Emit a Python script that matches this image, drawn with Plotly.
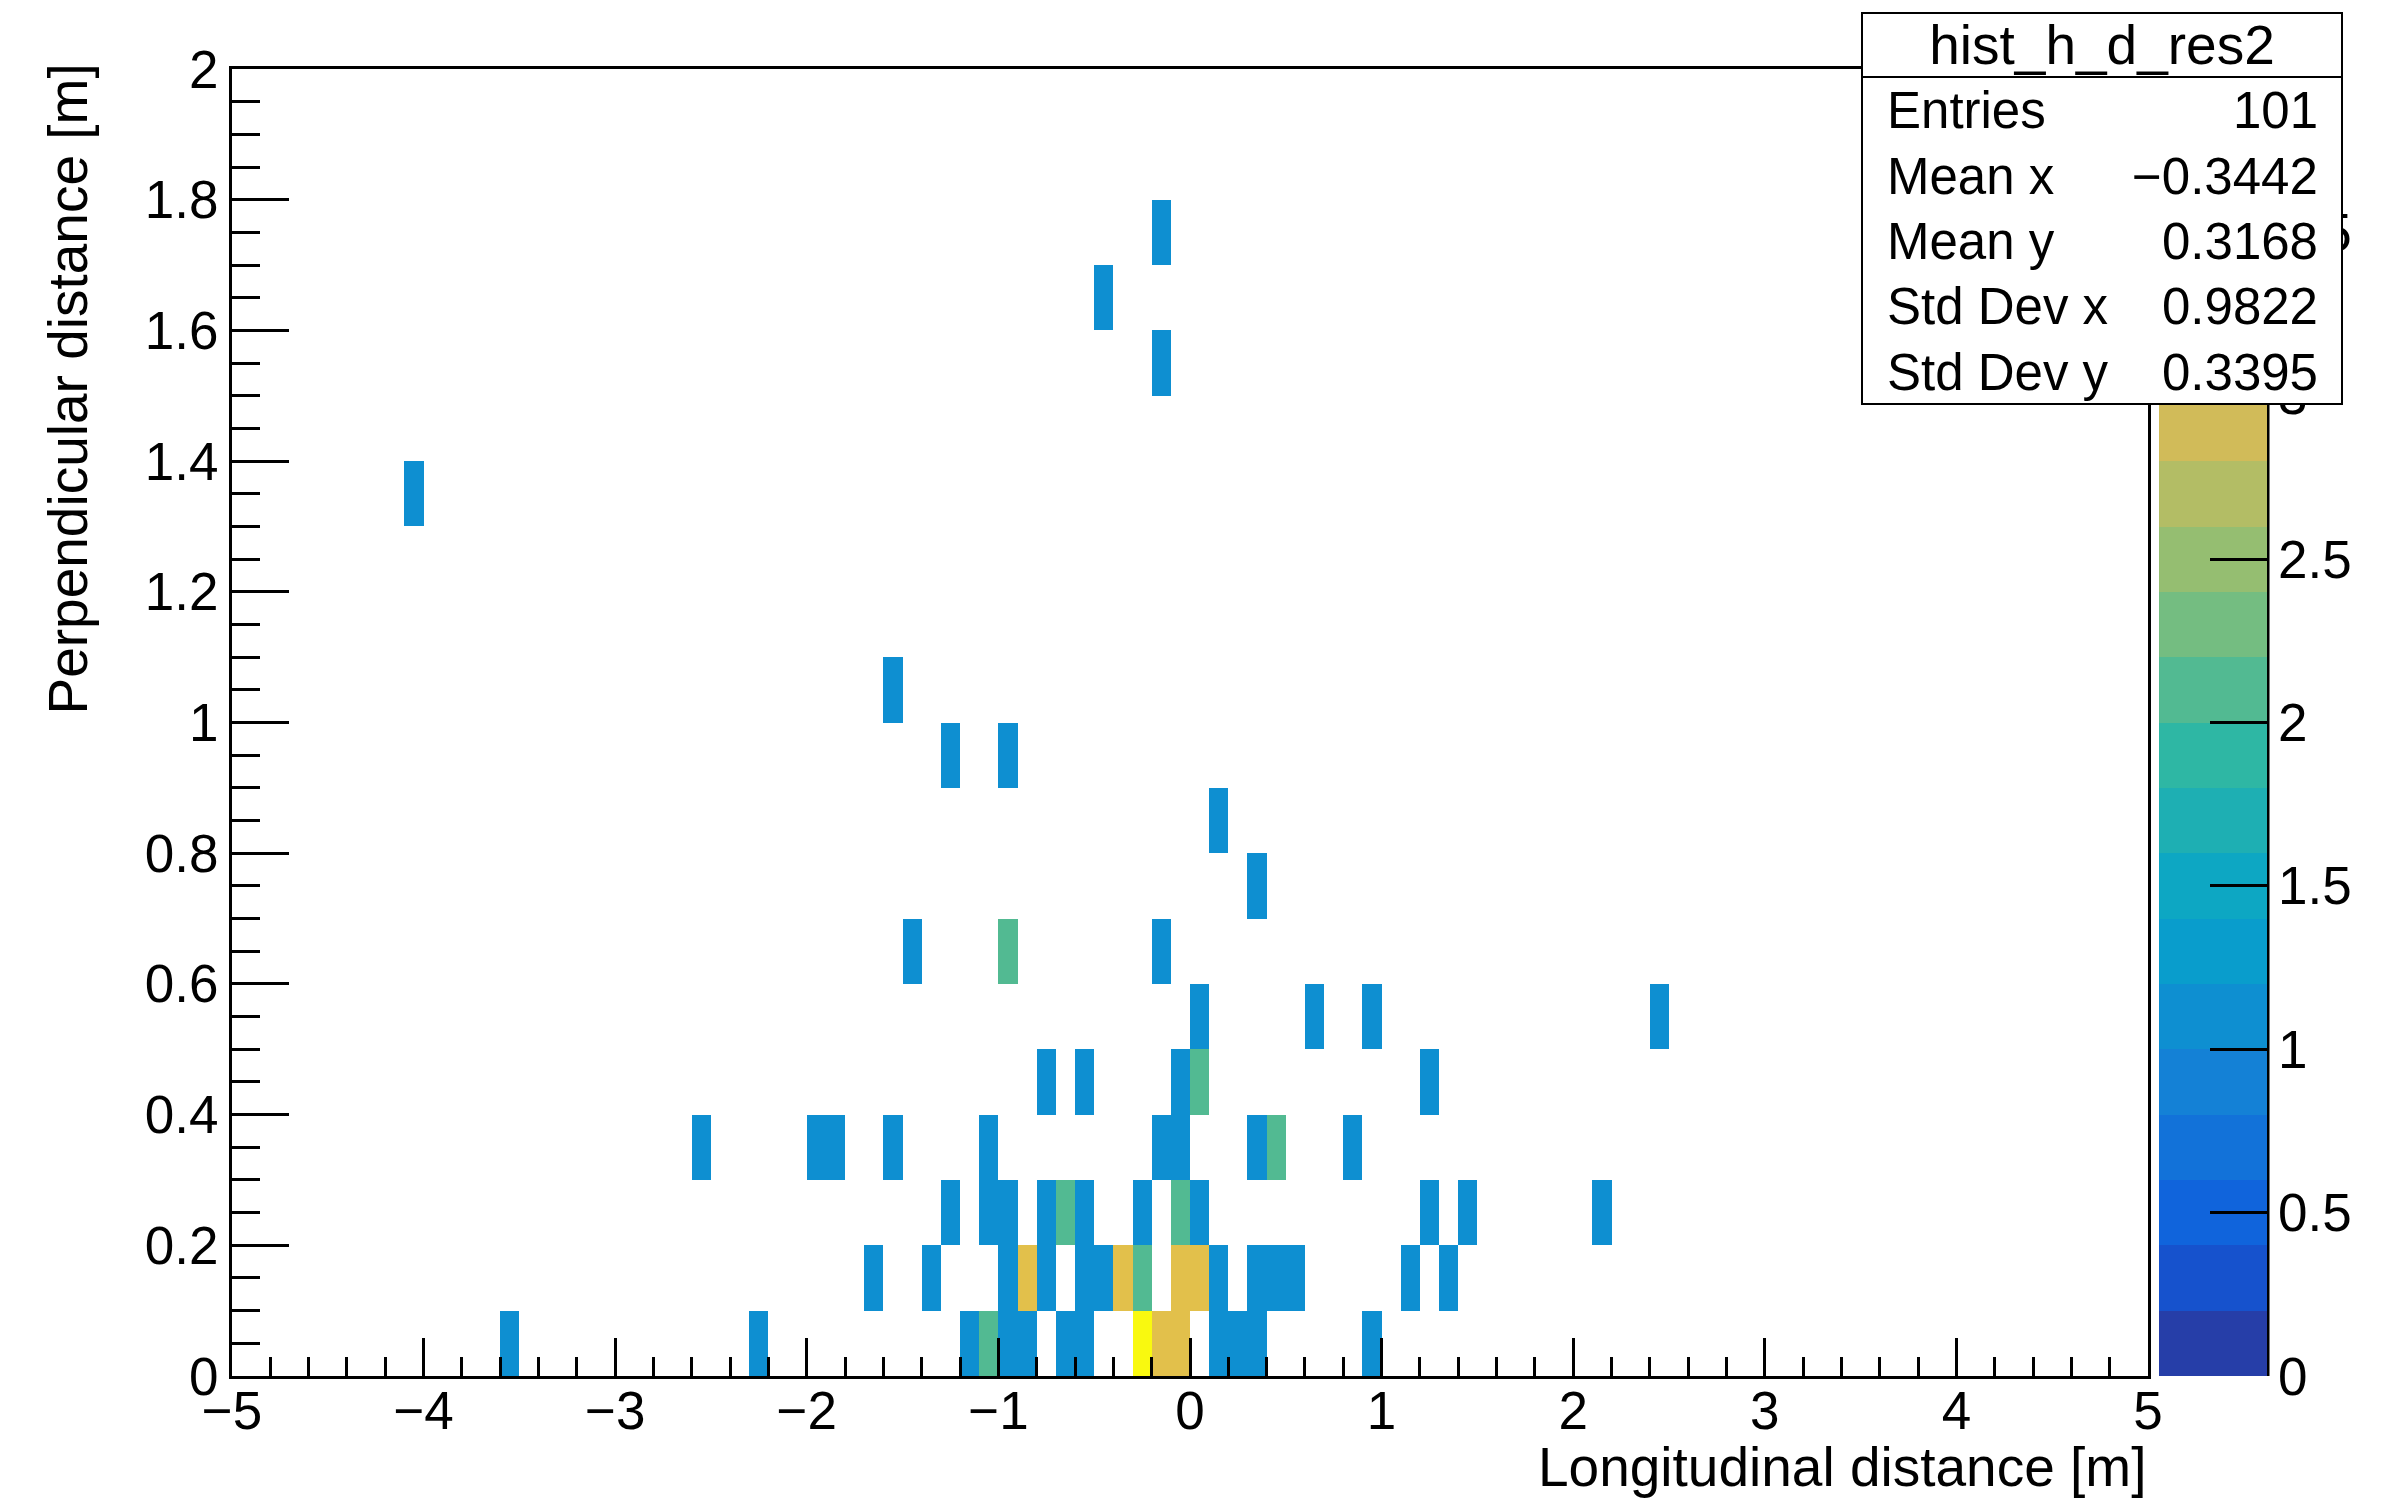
import numpy as np
import plotly.graph_objects as go

# ---------------- data (lower bin edges, 0.1 m bins) ----------------
cell_x = [
    -0.2, -0.5, -0.2, -4.1, -1.6, -1.3, -1.0, 0.1, 0.3,
    -1.5, -1.0, -0.2,
    0.0, 0.6, 0.9, 2.4,
    -0.8, -0.6, -0.1, 0.0, 1.2,
    -2.6, -2.0, -1.9, -1.6, -1.1, -0.2, -0.1, 0.3, 0.4, 0.8,
    -1.3, -1.1, -1.0, -0.8, -0.7, -0.6, -0.3, -0.1, 0.0, 1.2, 1.4, 2.1,
    -1.7, -1.4, -1.0, -0.9, -0.8, -0.6, -0.5, -0.4, -0.3, -0.1, 0.0, 0.1, 0.3, 0.4, 0.5, 1.1, 1.3,
    -3.6, -2.3, -1.2, -1.1, -1.0, -0.9, -0.7, -0.6, -0.3, -0.2, -0.1, 0.1, 0.2, 0.3, 0.9,
]
cell_y = [
    1.7, 1.6, 1.5, 1.3, 1.0, 0.9, 0.9, 0.8, 0.7,
    0.6, 0.6, 0.6,
    0.5, 0.5, 0.5, 0.5,
    0.4, 0.4, 0.4, 0.4, 0.4,
    0.3, 0.3, 0.3, 0.3, 0.3, 0.3, 0.3, 0.3, 0.3, 0.3,
    0.2, 0.2, 0.2, 0.2, 0.2, 0.2, 0.2, 0.2, 0.2, 0.2, 0.2, 0.2,
    0.1, 0.1, 0.1, 0.1, 0.1, 0.1, 0.1, 0.1, 0.1, 0.1, 0.1, 0.1, 0.1, 0.1, 0.1, 0.1, 0.1,
    0.0, 0.0, 0.0, 0.0, 0.0, 0.0, 0.0, 0.0, 0.0, 0.0, 0.0, 0.0, 0.0, 0.0, 0.0,
]
cell_count = [
    1, 1, 1, 1, 1, 1, 1, 1, 1,
    1, 2, 1,
    1, 1, 1, 1,
    1, 1, 1, 2, 1,
    1, 1, 1, 1, 1, 1, 1, 1, 2, 1,
    1, 1, 1, 1, 2, 1, 1, 2, 1, 1, 1, 1,
    1, 1, 1, 3, 1, 1, 1, 3, 2, 3, 3, 1, 1, 1, 1, 1, 1,
    1, 1, 1, 2, 1, 1, 1, 1, 4, 3, 3, 1, 1, 1, 1,
]

stat_labels = ["Entries", "Mean x", "Mean y", "Std Dev x", "Std Dev y"]
stat_values = ["101", "\u22120.3442", "0.3168", "0.9822", "0.3395"]
hist_name = "hist_h_d_res2"

x_ticks = [-5, -4, -3, -2, -1, 0, 1, 2, 3, 4, 5]
y_ticks = [0, 0.2, 0.4, 0.6, 0.8, 1.0, 1.2, 1.4, 1.6, 1.8, 2.0]
y_ticktext = ["0", "0.2", "0.4", "0.6", "0.8", "1", "1.2", "1.4", "1.6", "1.8", "2"]
z_ticks = [0, 0.5, 1, 1.5, 2, 2.5, 3, 3.5, 4]
z_ticktext = ["0", "0.5", "1", "1.5", "2", "2.5", "3", "3.5", "4"]

# ---------------- binning ----------------
nx, ny = 100, 20
x_edges = np.linspace(-5, 5, nx + 1)
y_edges = np.linspace(0, 2, ny + 1)
x_cent = 0.5 * (x_edges[:-1] + x_edges[1:])
y_cent = 0.5 * (y_edges[:-1] + y_edges[1:])
z = [[None] * nx for _ in range(ny)]
for cx, cy, c in zip(cell_x, cell_y, cell_count):
    ix = int(round((cx + 5) / 0.1))
    iy = int(round(cy / 0.1))
    z[iy][ix] = c

# ---------------- ROOT kBird palette, 20 contour levels ----------------
st = [0.0, 0.125, 0.25, 0.375, 0.5, 0.625, 0.75, 0.875, 1.0]
rr = [0.2082, 0.0592, 0.0780, 0.0232, 0.1802, 0.5301, 0.8186, 0.9956, 0.9764]
gg = [0.1664, 0.3599, 0.5041, 0.6419, 0.7178, 0.7492, 0.7328, 0.7862, 0.9832]
bb = [0.5293, 0.8684, 0.8385, 0.7914, 0.6425, 0.4662, 0.3499, 0.1968, 0.0539]
pal = []
for g in range(1, len(st)):
    n = int(np.floor(255 * st[g]) - np.floor(255 * st[g - 1]))
    for k in range(n):
        f = k / n
        pal.append((rr[g - 1] + (rr[g] - rr[g - 1]) * f,
                    gg[g - 1] + (gg[g] - gg[g - 1]) * f,
                    bb[g - 1] + (bb[g] - bb[g - 1]) * f))
nlev = 20
band_cols = []
for i in range(nlev):
    idx = min(int((i + 0.99) * len(pal) / nlev), len(pal) - 1)
    r, g_, b = pal[idx]
    band_cols.append("rgb(%d,%d,%d)" % (round(r * 255), round(g_ * 255), round(b * 255)))
eps = 1e-4
cscale = []
for i in range(nlev):
    lo = 0.0 if i == 0 else i / nlev - eps
    hi = 1.0 if i == nlev - 1 else (i + 1) / nlev - eps
    cscale.append([lo, band_cols[i]])
    cscale.append([hi, band_cols[i]])

# ---------------- geometry (pixels) ----------------
W, H = 2397, 1500
L, R, T, B = 232, 2148, 69, 1376
PW, PH = R - L, B - T


def px(x):
    return (x - L) / PW


def py(y):
    return (B - y) / PH


FONT = "Liberation Sans, Arial, Helvetica, sans-serif"

fig = go.Figure()
fig.add_trace(go.Heatmap(
    x=x_cent, y=y_cent, z=z, zmin=0, zmax=4,
    colorscale=cscale, hoverinfo="skip", xgap=0, ygap=0,
    colorbar=dict(
        x=px(2159), xanchor="left", xpad=0, y=0.5, yanchor="middle", ypad=0,
        len=1, lenmode="fraction", thickness=108, thicknessmode="pixels",
        outlinewidth=0, tickmode="array", tickvals=z_ticks, ticktext=z_ticktext,
        ticks="inside", ticklen=57, tickwidth=3, tickcolor="black",
        tickfont=dict(family=FONT, size=53, color="black"),
    ),
))

fig.update_layout(
    width=W, height=H, margin=dict(l=L, r=W - R, t=T, b=H - B, autoexpand=False),
    paper_bgcolor="white", plot_bgcolor="white",
    font=dict(family=FONT, color="black"),
    showlegend=False,
    xaxis=dict(range=[-5, 5], tickmode="array", tickvals=x_ticks,
               ticktext=[("\u2212%d" % -v) if v < 0 else str(v) for v in x_ticks],
               ticks="inside", ticklen=38, tickwidth=3, tickcolor="black",
               minor=dict(dtick=0.2, ticks="inside", ticklen=19, tickwidth=3, tickcolor="black", showgrid=False),
               showline=True, linewidth=3, linecolor="black", mirror=True,
               showgrid=False, zeroline=False, ticklabelstandoff=-14,
               tickfont=dict(family=FONT, size=53, color="black")),
    yaxis=dict(range=[0, 2], tickmode="array", tickvals=y_ticks, ticktext=y_ticktext,
               ticks="inside", ticklen=57, tickwidth=3, tickcolor="black",
               minor=dict(dtick=0.05, ticks="inside", ticklen=28, tickwidth=3, tickcolor="black", showgrid=False),
               showline=True, linewidth=3, linecolor="black", mirror=True,
               showgrid=False, zeroline=False,
               tickfont=dict(family=FONT, size=53, color="black")),
)

# colorbar axis line on the right
fig.add_shape(type="line", xref="paper", yref="paper", x0=px(2268), x1=px(2268), y0=0, y1=1,
              line=dict(color="black", width=3), layer="above")

# axis titles (ROOT style: right/top aligned)
fig.add_annotation(xref="paper", yref="paper", x=px(2148), y=py(1467), xanchor="right", yanchor="middle",
                   text="Longitudinal distance [m]", showarrow=False,
                   font=dict(family=FONT, size=55, color="black"))
fig.add_annotation(xref="paper", yref="paper", x=px(67), y=py(62), xanchor="center", yanchor="top",
                   text="Perpendicular distance [m]", textangle=-90, showarrow=False,
                   font=dict(family=FONT, size=55, color="black"))

# stats box
bx0, bx1 = 1861, 2343
ty0, ty1 = 12, 78
by1 = 405
fig.add_annotation(xref="paper", yref="paper", x=px(bx0), y=py(ty0), xanchor="left", yanchor="top",
                   text=hist_name, width=bx1 - bx0 - 4, height=ty1 - ty0 - 4, align="center", valign="middle",
                   bgcolor="white", bordercolor="black", borderwidth=2, borderpad=0, showarrow=False,
                   font=dict(family=FONT, size=55, color="black"))
fig.add_annotation(xref="paper", yref="paper", x=px(bx0), y=py(ty1 - 2), xanchor="left", yanchor="top",
                   text="\u00a0", width=bx1 - bx0 - 4, height=by1 - ty1 - 2, align="center",
                   bgcolor="white", bordercolor="black", borderwidth=2, borderpad=0, showarrow=False,
                   font=dict(family=FONT, size=20, color="black"))
row_h = (by1 - ty1) / len(stat_labels)
for i, (lab, val) in enumerate(zip(stat_labels, stat_values)):
    yc = ty1 + row_h * (i + 0.5)
    fig.add_annotation(xref="paper", yref="paper", x=px(1885), y=py(yc), xanchor="left", yanchor="middle",
                       text=lab, showarrow=False, font=dict(family=FONT, size=51, color="black"))
    fig.add_annotation(xref="paper", yref="paper", x=px(2320), y=py(yc), xanchor="right", yanchor="middle",
                       text=val, showarrow=False, font=dict(family=FONT, size=51, color="black"))

fig.write_html("out.html", config={"displayModeBar": False},
               post_script="document.body.style.margin='0px';document.body.style.overflow='hidden';")
